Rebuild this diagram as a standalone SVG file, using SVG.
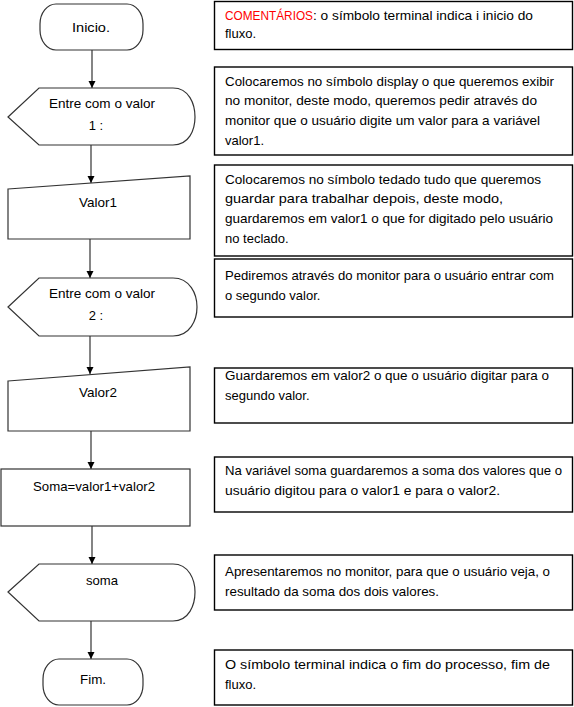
<svg xmlns="http://www.w3.org/2000/svg" width="574" height="707" viewBox="0 0 574 707">
<style>
.sh{fill:#fff;stroke:#333;stroke-width:1.2}
.bx{fill:#fff;stroke:#000;stroke-width:1.4}
.t{font-family:"Liberation Sans",Arial,sans-serif;font-size:13px;fill:#000}
.c{text-anchor:middle}
.cn{stroke:#333;stroke-width:1.2;fill:none;marker-end:url(#ah)}
</style>
<defs>
<marker id="ah" markerWidth="8" markerHeight="8" refX="7" refY="4" orient="auto" markerUnits="userSpaceOnUse">
<path d="M0,0.5 L7,4 L0,7.5 Z" fill="#000"/>
</marker>
</defs>
<rect width="574" height="707" fill="#fff"/>
<g id="connectors">
<line class="cn" x1="92" y1="50" x2="92" y2="88"/>
<line class="cn" x1="91" y1="145" x2="91" y2="183"/>
<line class="cn" x1="90" y1="239" x2="90" y2="278"/>
<line class="cn" x1="90" y1="336" x2="90" y2="374"/>
<line class="cn" x1="91" y1="431" x2="91" y2="469"/>
<line class="cn" x1="92" y1="526" x2="92" y2="564"/>
<line class="cn" x1="91" y1="621" x2="91" y2="659"/>
</g>
<g id="inicio">
<rect class="sh" x="40" y="4" width="103" height="46" rx="16" ry="20"/>
<text class="t c" x="91" y="31.5" textLength="38" lengthAdjust="spacingAndGlyphs">Inicio.</text>
</g>
<g id="display1">
<path class="sh" d="M8,117 L39,88 L173,88 C189,88 195,104 195,117 C195,130 189,145 173,145 L39,145 Z"/>
<text class="t c" x="102" y="107.5" textLength="106" lengthAdjust="spacingAndGlyphs">Entre com o valor</text>
<text class="t c" x="96" y="129.5">1 :</text>
</g>
<g id="valor1">
<path class="sh" d="M8,189 L190,176 L190,239 L8,239 Z"/>
<text class="t c" x="98" y="206.5" textLength="38" lengthAdjust="spacingAndGlyphs">Valor1</text>
</g>
<g id="display2">
<path class="sh" d="M8,307 L39,278 L173,278 C190,278 197,294 197,307 C197,320 190,336 173,336 L39,336 Z"/>
<text class="t c" x="102" y="297.5" textLength="106" lengthAdjust="spacingAndGlyphs">Entre com o valor</text>
<text class="t c" x="96" y="319.5">2 :</text>
</g>
<g id="valor2">
<path class="sh" d="M8,381 L190,367 L190,431 L8,431 Z"/>
<text class="t c" x="98" y="396.5" textLength="38" lengthAdjust="spacingAndGlyphs">Valor2</text>
</g>
<g id="soma-proc">
<rect class="sh" x="1" y="469" width="189" height="57"/>
<text class="t c" x="94" y="490.5" textLength="122" lengthAdjust="spacingAndGlyphs">Soma=valor1+valor2</text>
</g>
<g id="display3">
<path class="sh" d="M8,592 L39,564 L173,564 C189,564 195,580 195,592 C195,605 189,621 173,621 L39,621 Z"/>
<text class="t c" x="102" y="584.5" textLength="32" lengthAdjust="spacingAndGlyphs">soma</text>
</g>
<g id="fim">
<rect class="sh" x="43" y="659" width="100" height="46" rx="16" ry="20"/>
<text class="t c" x="93" y="683.5" textLength="26" lengthAdjust="spacingAndGlyphs">Fim.</text>
</g>
<g id="c1">
<rect class="bx" x="214.5" y="1.5" width="358" height="48"/>
<text class="t" x="225" y="20"><tspan fill="#ff0000" textLength="88" lengthAdjust="spacingAndGlyphs">COMENTÁRIOS</tspan><tspan textLength="220" lengthAdjust="spacingAndGlyphs">: o símbolo terminal indica i inicio do</tspan></text>
<text class="t" x="225" y="38">fluxo.</text>
</g>
<g id="c2">
<rect class="bx" x="214.5" y="67" width="358" height="88"/>
<text class="t" x="225" y="86" textLength="329" lengthAdjust="spacingAndGlyphs">Colocaremos no símbolo display o que queremos exibir</text>
<text class="t" x="225" y="105" textLength="312" lengthAdjust="spacingAndGlyphs">no monitor, deste modo, queremos pedir através do</text>
<text class="t" x="225" y="125" textLength="315" lengthAdjust="spacingAndGlyphs">monitor que o usuário digite um valor para a variável</text>
<text class="t" x="225" y="145">valor1.</text>
</g>
<g id="c3">
<rect class="bx" x="214.5" y="165" width="358" height="91"/>
<text class="t" x="225" y="184" textLength="316" lengthAdjust="spacingAndGlyphs">Colocaremos no símbolo tedado tudo que queremos</text>
<text class="t" x="225" y="203" textLength="278" lengthAdjust="spacingAndGlyphs">guardar para trabalhar depois, deste modo,</text>
<text class="t" x="225" y="223" textLength="328" lengthAdjust="spacingAndGlyphs">guardaremos em valor1 o que for digitado pelo usuário</text>
<text class="t" x="225" y="243">no teclado.</text>
</g>
<g id="c4">
<rect class="bx" x="214.5" y="259" width="358" height="58"/>
<text class="t" x="225" y="280" textLength="329" lengthAdjust="spacingAndGlyphs">Pediremos através do monitor para o usuário entrar com</text>
<text class="t" x="225" y="300">o segundo valor.</text>
</g>
<g id="c5">
<rect class="bx" x="214.5" y="368" width="358" height="55"/>
<text class="t" x="225" y="380" textLength="324" lengthAdjust="spacingAndGlyphs">Guardaremos em valor2 o que o usuário digitar para o</text>
<text class="t" x="225" y="400">segundo valor.</text>
</g>
<g id="c6">
<rect class="bx" x="214.5" y="457" width="358" height="55"/>
<text class="t" x="225" y="475" textLength="337" lengthAdjust="spacingAndGlyphs">Na variável soma guardaremos a soma dos valores que o</text>
<text class="t" x="225" y="495" textLength="275" lengthAdjust="spacingAndGlyphs">usuário digitou para o valor1 e para o valor2.</text>
</g>
<g id="c7">
<rect class="bx" x="214.5" y="555" width="358" height="55"/>
<text class="t" x="225" y="576" textLength="325" lengthAdjust="spacingAndGlyphs">Apresentaremos no monitor, para que o usuário veja, o</text>
<text class="t" x="225" y="596" textLength="214" lengthAdjust="spacingAndGlyphs">resultado da soma dos dois valores.</text>
</g>
<g id="c8">
<rect class="bx" x="214.5" y="650" width="358" height="55"/>
<text class="t" x="225" y="669" textLength="325" lengthAdjust="spacingAndGlyphs">O símbolo terminal indica o fim do processo, fim de</text>
<text class="t" x="225" y="689">fluxo.</text>
</g>
</svg>
